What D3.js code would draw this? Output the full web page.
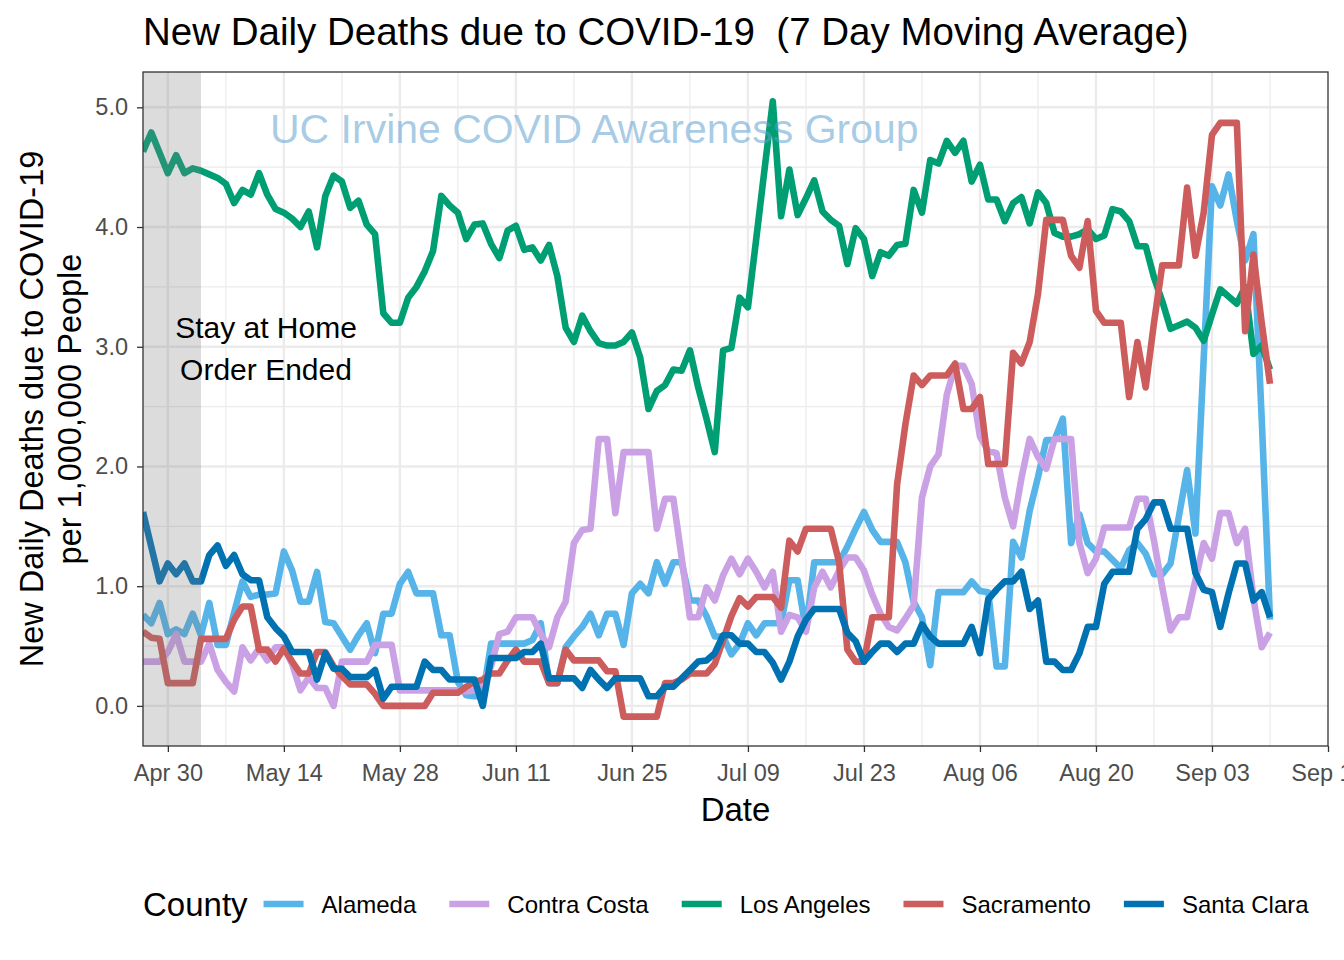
<!DOCTYPE html>
<html>
<head>
<meta charset="utf-8">
<script src="https://cdn.jsdelivr.net/npm/d3@7"></script>
<style>
  html, body { margin: 0; padding: 0; background: #ffffff; }
  svg { display: block; font-family: "Liberation Sans", Arial, Helvetica, sans-serif; }
  .pre { white-space: pre; }
</style>
</head>
<body>
<svg id="chart" width="1344" height="960"></svg>
<script>
// ---------------- DATA ----------------
const startDate = "2020-04-27";   // first daily observation
const counties = ["Alameda", "Contra Costa", "Los Angeles", "Sacramento", "Santa Clara"];
const countyColors = ["#56B4E9", "#CBA1E6", "#009E73", "#CD5C5C", "#0072B2"];

const alameda = [
  0.76,0.69,0.86,0.60,0.64,0.60,0.77,0.59,0.86,0.51,
  0.51,0.78,1.04,0.91,0.93,0.93,0.94,1.29,1.13,0.87,
  0.87,1.12,0.70,0.69,0.58,0.47,0.59,0.69,0.44,0.77,
  0.77,1.02,1.12,0.94,0.94,0.94,0.59,0.59,0.20,0.09,
  0.08,0.08,0.52,0.52,0.52,0.52,0.52,0.55,0.69,0.19,
  0.19,0.49,0.58,0.66,0.77,0.59,0.77,0.77,0.51,0.94,
  1.02,0.94,1.20,1.02,1.20,1.20,0.88,0.88,0.75,0.58,
  0.58,0.43,0.52,0.69,0.59,0.69,0.69,0.69,1.05,1.05,
  0.63,1.20,1.20,1.20,1.20,1.33,1.48,1.62,1.47,1.37,
  1.37,1.37,1.20,0.87,0.74,0.34,0.95,0.95,0.95,0.95,
  1.04,0.96,0.95,0.33,0.33,1.37,1.24,1.63,1.91,2.22,
  2.22,2.40,1.36,1.60,1.36,1.29,1.29,1.22,1.15,1.30,
  1.36,1.27,1.10,1.10,1.19,1.58,1.97,1.44,2.90,4.34,
  4.18,4.44,4.05,3.72,3.94,2.40,0.72
];
const contraCosta = [
  0.37,0.37,0.37,0.45,0.60,0.37,0.37,0.37,0.52,0.30,
  0.20,0.12,0.49,0.38,0.48,0.38,0.49,0.49,0.35,0.13,
  0.24,0.15,0.15,0.00,0.37,0.37,0.37,0.37,0.51,0.51,
  0.51,0.13,0.13,0.13,0.13,0.13,0.13,0.13,0.13,0.12,
  0.13,0.20,0.33,0.60,0.62,0.74,0.74,0.74,0.60,0.49,
  0.74,0.87,1.36,1.47,1.48,2.23,2.23,1.61,2.12,2.12,
  2.12,2.12,1.48,1.73,1.73,1.24,0.74,0.74,0.99,0.88,
  1.09,1.23,1.10,1.23,1.12,0.99,1.12,0.62,0.76,0.74,
  0.62,0.99,1.12,0.99,1.13,1.24,1.24,1.13,0.93,0.77,
  0.66,0.63,0.73,0.84,1.74,2.00,2.10,2.60,2.84,2.84,
  2.69,2.25,2.13,2.11,1.74,1.50,1.90,2.23,2.08,1.98,
  2.23,2.23,2.23,1.36,1.11,1.23,1.49,1.49,1.49,1.49,
  1.73,1.73,1.38,0.99,0.63,0.74,0.74,1.05,1.36,1.23,
  1.61,1.61,1.36,1.48,0.90,0.49,0.61
];
const losAngeles = [
  4.63,4.79,4.62,4.45,4.60,4.45,4.49,4.47,4.44,4.41,
  4.36,4.20,4.31,4.27,4.45,4.27,4.15,4.12,4.07,4.00,
  4.13,3.83,4.26,4.43,4.38,4.16,4.22,4.02,3.94,3.28,
  3.20,3.20,3.41,3.50,3.63,3.80,4.26,4.18,4.12,3.90,
  4.02,4.03,3.86,3.74,3.97,4.01,3.81,3.83,3.72,3.85,
  3.59,3.16,3.04,3.26,3.13,3.03,3.01,3.01,3.04,3.12,
  2.91,2.48,2.63,2.68,2.81,2.80,2.97,2.66,2.40,2.12,
  2.97,2.99,3.41,3.33,3.90,4.48,5.05,4.09,4.48,4.10,
  4.24,4.39,4.13,4.06,4.01,3.69,3.99,3.90,3.59,3.79,
  3.76,3.85,3.86,4.31,4.12,4.56,4.53,4.72,4.62,4.72,
  4.38,4.52,4.23,4.23,4.05,4.20,4.25,4.03,4.29,4.20,
  3.95,3.92,3.92,3.94,3.98,3.90,3.93,4.15,4.13,4.05,
  3.84,3.84,3.58,3.38,3.15,3.18,3.21,3.16,3.05,3.27,
  3.48,3.42,3.36,3.50,2.94,3.01,2.81
];
const sacramento = [
  0.62,0.57,0.56,0.19,0.19,0.19,0.19,0.56,0.56,0.56,
  0.56,0.72,0.83,0.83,0.47,0.47,0.37,0.48,0.37,0.27,
  0.27,0.45,0.45,0.33,0.25,0.18,0.18,0.18,0.10,0.00,
  0.00,0.00,0.00,0.00,0.00,0.11,0.11,0.11,0.11,0.16,
  0.20,0.22,0.27,0.27,0.38,0.47,0.37,0.37,0.37,0.19,
  0.19,0.47,0.38,0.38,0.38,0.38,0.29,0.29,-0.09,-0.09,
  -0.09,-0.09,-0.09,0.19,0.19,0.22,0.27,0.27,0.27,0.35,
  0.55,0.75,0.90,0.83,0.91,0.91,0.91,0.82,1.38,1.29,
  1.48,1.48,1.48,1.48,1.20,0.47,0.37,0.37,0.74,0.74,
  0.74,1.85,2.35,2.76,2.68,2.76,2.76,2.76,2.86,2.48,
  2.48,2.58,2.02,2.02,2.02,2.95,2.86,3.04,3.44,4.06,
  4.06,4.06,3.76,3.66,4.05,3.30,3.20,3.20,3.20,2.58,
  3.04,2.66,3.20,3.68,3.68,3.68,4.33,3.76,4.12,4.77,
  4.87,4.87,4.87,3.13,3.77,3.20,2.69
];
const santaClara = [
  1.62,1.33,1.04,1.19,1.10,1.19,1.04,1.04,1.26,1.34,
  1.17,1.26,1.10,1.05,1.05,0.74,0.65,0.58,0.45,0.45,
  0.45,0.22,0.44,0.31,0.31,0.24,0.24,0.24,0.30,0.06,
  0.16,0.16,0.16,0.16,0.37,0.30,0.30,0.22,0.22,0.22,
  0.22,0.00,0.40,0.40,0.40,0.40,0.45,0.45,0.52,0.23,
  0.23,0.23,0.23,0.15,0.30,0.22,0.15,0.23,0.23,0.23,
  0.23,0.08,0.08,0.16,0.16,0.23,0.30,0.37,0.38,0.44,
  0.59,0.59,0.52,0.52,0.45,0.45,0.36,0.22,0.37,0.58,
  0.72,0.81,0.81,0.81,0.81,0.61,0.54,0.37,0.45,0.52,
  0.52,0.45,0.52,0.52,0.68,0.58,0.52,0.52,0.52,0.52,
  0.66,0.44,0.89,0.97,1.04,1.04,1.12,0.81,0.88,0.37,
  0.37,0.30,0.30,0.44,0.66,0.66,1.02,1.12,1.12,1.12,
  1.48,1.56,1.70,1.70,1.48,1.48,1.48,1.11,0.97,0.95,
  0.66,0.94,1.19,1.19,0.88,0.95,0.74
];
const seriesValues = [alameda, contraCosta, losAngeles, sacramento, santaClara];

const xTickDates = ["2020-04-30","2020-05-14","2020-05-28","2020-06-11","2020-06-25","2020-07-09",
                    "2020-07-23","2020-08-06","2020-08-20","2020-09-03","2020-09-17"];
const yTicks = [0, 1, 2, 3, 4, 5];
const xDomain = ["2020-04-27", "2020-09-17"];
const yDomain = [-0.335, 5.295];
const shadeRange = ["2020-04-27", "2020-05-04"];   // stay-at-home period shown in grey

const titleText = "New Daily Deaths due to COVID-19  (7 Day Moving Average)";
const xTitle = "Date";
const yTitleLines = ["New Daily Deaths due to COVID-19", "per 1,000,000 People"];
const legendTitle = "County";
const annotationLines = ["Stay at Home", "Order Ended"];
const watermark = "UC Irvine COVID Awareness Group";

// ---------------- CHART ----------------
const parse = d3.utcParse("%Y-%m-%d");
const start = parse(startDate);
const svg = d3.select("#chart");
const P = { left: 143, right: 1328, top: 72, bottom: 746 };

const x = d3.scaleUtc().domain(xDomain.map(parse)).range([P.left, P.right]);
const y = d3.scaleLinear().domain(yDomain).range([P.bottom, P.top]);

svg.append("rect").attr("width", 1344).attr("height", 960).attr("fill", "#ffffff");

// panel background
svg.append("rect").attr("x", P.left).attr("y", P.top)
  .attr("width", P.right - P.left).attr("height", P.bottom - P.top).attr("fill", "#ffffff");

const tickDates = xTickDates.map(parse);
const minorX = tickDates.map(t => d3.utcDay.offset(t, -7))
  .filter(t => x(t) > P.left && x(t) < P.right);
const minorY = yTicks.slice(0, -1).map(v => v + 0.5);

const grid = svg.append("g");
grid.selectAll(".mx").data(minorX).join("line")
  .attr("x1", d => x(d)).attr("x2", d => x(d)).attr("y1", P.top).attr("y2", P.bottom)
  .attr("stroke", "#EBEBEB").attr("stroke-width", 1.2);
grid.selectAll(".my").data(minorY).join("line")
  .attr("y1", d => y(d)).attr("y2", d => y(d)).attr("x1", P.left).attr("x2", P.right)
  .attr("stroke", "#EBEBEB").attr("stroke-width", 1.2);
grid.selectAll(".Mx").data(tickDates.filter(t => x(t) < P.right)).join("line")
  .attr("x1", d => x(d)).attr("x2", d => x(d)).attr("y1", P.top).attr("y2", P.bottom)
  .attr("stroke", "#EBEBEB").attr("stroke-width", 2.4);
grid.selectAll(".My").data(yTicks).join("line")
  .attr("y1", d => y(d)).attr("y2", d => y(d)).attr("x1", P.left).attr("x2", P.right)
  .attr("stroke", "#EBEBEB").attr("stroke-width", 2.4);

// clip
svg.append("clipPath").attr("id", "clip").append("rect")
  .attr("x", P.left).attr("y", P.top).attr("width", P.right - P.left).attr("height", P.bottom - P.top);

// lines
const line = d3.line()
  .x((d, i) => x(d3.utcDay.offset(start, i)))
  .y(d => y(d));

const lines = svg.append("g").attr("clip-path", "url(#clip)");
lines.selectAll("path").data(seriesValues).join("path")
  .attr("d", d => line(d))
  .attr("fill", "none")
  .attr("stroke", (d, i) => countyColors[i])
  .attr("stroke-width", 6.6)
  .attr("stroke-linejoin", "round")
  .attr("stroke-linecap", "butt");

// shaded stay-at-home region (drawn on top, translucent)
const sr = shadeRange.map(parse);
svg.append("rect")
  .attr("x", x(sr[0])).attr("y", P.top)
  .attr("width", x(sr[1]) - x(sr[0])).attr("height", P.bottom - P.top)
  .attr("fill", "#7f7f7f").attr("fill-opacity", 0.27);

// watermark
svg.append("text").attr("x", 270).attr("y", 143)
  .attr("font-size", 41).attr("fill", "#5E9FD0").attr("fill-opacity", 0.55)
  .text(watermark);

// annotation
svg.append("g").selectAll("text").data(annotationLines).join("text")
  .attr("x", 266).attr("y", (d, i) => 338 + i * 42)
  .attr("text-anchor", "middle").attr("font-size", 30).attr("fill", "#000")
  .text(d => d);

// panel border
svg.append("rect").attr("x", P.left).attr("y", P.top)
  .attr("width", P.right - P.left).attr("height", P.bottom - P.top)
  .attr("fill", "none").attr("stroke", "#333333").attr("stroke-width", 1.3);

// axes
const xAxis = svg.append("g").attr("transform", `translate(0,${P.bottom})`)
  .call(d3.axisBottom(x).tickValues(tickDates).tickFormat(d3.utcFormat("%b %d"))
    .tickSize(6).tickPadding(12));
const yAxis = svg.append("g").attr("transform", `translate(${P.left},0)`)
  .call(d3.axisLeft(y).tickValues(yTicks).tickFormat(d3.format(".1f"))
    .tickSize(6).tickPadding(9));
[xAxis, yAxis].forEach(g => {
  g.select(".domain").remove();
  g.selectAll(".tick line").attr("stroke", "#333333").attr("stroke-width", 1.3);
  g.selectAll(".tick text").attr("fill", "#4D4D4D").attr("font-size", 23.5)
    .attr("font-family", "Liberation Sans, Arial, sans-serif");
});

// titles
svg.append("text").attr("class", "pre").attr("xml:space", "preserve")
  .attr("x", 143).attr("y", 45).attr("font-size", 38.5).attr("fill", "#000")
  .text(titleText);
svg.append("text").attr("x", (P.left + P.right) / 2).attr("y", 821)
  .attr("text-anchor", "middle").attr("font-size", 33).attr("fill", "#000").text(xTitle);
const cy = (P.top + P.bottom) / 2;
svg.append("g").selectAll("text").data(yTitleLines).join("text")
  .attr("transform", (d, i) => `translate(${i === 0 ? 43 : 81},${cy}) rotate(-90)`)
  .attr("text-anchor", "middle").attr("font-size", 32.5).attr("fill", "#000")
  .text(d => d);

// legend
const legend = svg.append("g");
const lt = legend.append("text").attr("x", 143).attr("y", 916)
  .attr("font-size", 33).attr("fill", "#000").text(legendTitle);
let cursor = 143 + lt.node().getComputedTextLength() + 16;
counties.forEach((c, i) => {
  legend.append("line").attr("x1", cursor).attr("x2", cursor + 40)
    .attr("y1", 904).attr("y2", 904)
    .attr("stroke", countyColors[i]).attr("stroke-width", 6.4);
  const t = legend.append("text").attr("x", cursor + 58).attr("y", 913)
    .attr("font-size", 24).attr("fill", "#000").text(c);
  cursor = cursor + 58 + t.node().getComputedTextLength() + 33;
});
</script>
</body>
</html>
